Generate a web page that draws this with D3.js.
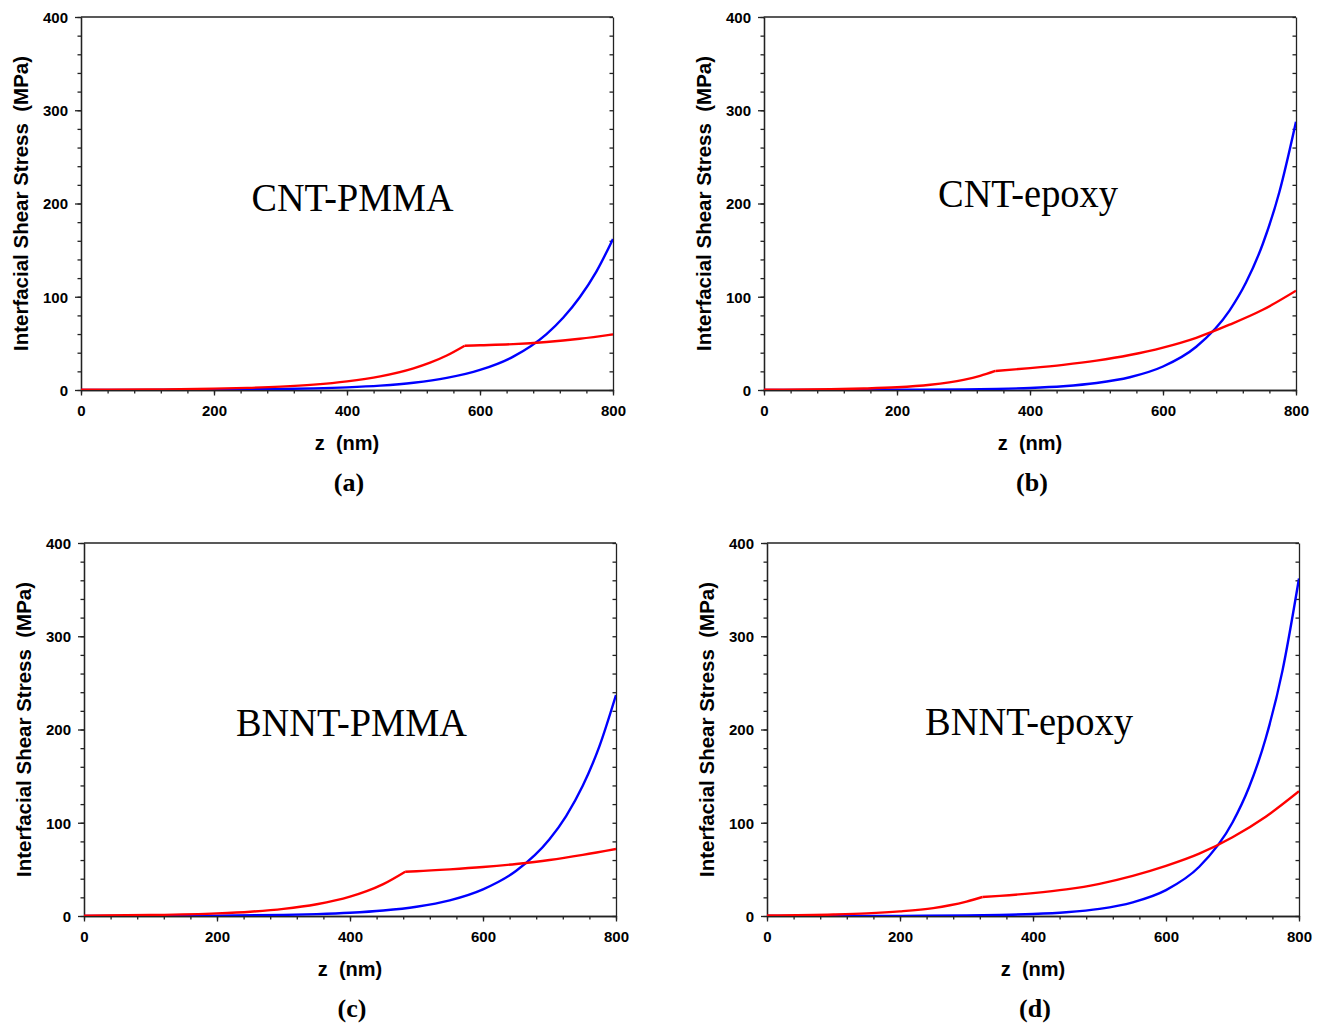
<!DOCTYPE html>
<html><head><meta charset="utf-8">
<script src="https://cdn.jsdelivr.net/npm/d3@7"></script>
<style>body{margin:0;background:#fff;} svg{display:block;}</style>
</head><body><svg id="chart" width="1320" height="1024"></svg>
<script>
// ---------- data ----------
const panelLetters = ["(a)", "(b)", "(c)", "(d)"];
const panelNames = ["CNT-PMMA", "CNT-epoxy", "BNNT-PMMA", "BNNT-epoxy"];
const xTickValues = [0, 200, 400, 600, 800];
const yTickValues = [0, 100, 200, 300, 400];
const xTitle = "z  (nm)";
const yTitle = "Interfacial Shear Stress  (MPa)";

const zBlue = [0, 100, 200, 300, 350, 400, 450, 500, 550, 600, 650, 700, 725, 750, 775, 800];
const blueA = [0.05, 0.14, 0.38, 1.04, 1.72, 2.85, 4.7, 7.8, 13.0, 21.5, 35.8, 60, 77.5, 99.5, 127, 162];
const blueB = [0.02, 0.06, 0.19, 0.66, 1.2, 2.2, 4.06, 7.5, 13.7, 25.2, 46.4, 85.2, 115.5, 156.6, 212.3, 287.7];
const blueC = [0.05, 0.14, 0.41, 1.19, 2.03, 3.44, 5.84, 9.9, 16.8, 28.6, 48.5, 82.3, 107.2, 139.6, 181.9, 237];
const blueD = [0.01, 0.05, 0.16, 0.59, 1.12, 2.14, 4.06, 7.7, 14.7, 27.8, 52.8, 100.3, 138.3, 190.6, 262.6, 362];

const zRedA = [0, 100, 200, 250, 300, 350, 400, 450, 500, 525, 550, 577, 600, 650, 700, 750, 800];
const redA  = [0.22, 0.56, 1.43, 2.27, 3.6, 5.75, 9.2, 14.6, 23.2, 29.3, 37.0, 47.5, 48.0, 49.2, 51.5, 55.0, 59.7];
const kinkA = 577;

const zRedB = [0, 100, 150, 200, 250, 300, 325, 348, 400, 450, 500, 550, 600, 650, 700, 750, 800];
const redB  = [0.22, 0.81, 1.56, 2.9, 5.7, 10.9, 15.1, 20.4, 23.5, 27, 31.5, 37.5, 45.5, 56, 70, 86, 106.5];
const kinkB = 348;

const zRedC = [0, 100, 200, 250, 300, 350, 400, 425, 450, 483, 500, 550, 600, 650, 700, 750, 800];
const redC  = [0.38, 1.03, 2.8, 4.6, 7.6, 12.6, 20.7, 26.6, 34.2, 47.5, 48.0, 50.0, 52.5, 55.8, 60.0, 65.5, 71.8];
const kinkC = 483;

const zRedD = [0, 100, 150, 200, 250, 275, 300, 324, 350, 400, 450, 500, 550, 600, 650, 700, 750, 800];
const redD  = [0.51, 1.6, 2.8, 4.96, 8.5, 11.5, 15.5, 20.4, 21.6, 24.5, 28.5, 34.5, 43.0, 53.7, 66.8, 84.5, 106.5, 133.8];
const kinkD = 324;

// ---------- layout ----------
const layouts = [
  {x0: 81,  x1: 613,  yTop: 17,  yBot: 390, nameX: 352.5, nameY: 211, nameW: 202},
  {x0: 764, x1: 1296, yTop: 17,  yBot: 390, nameX: 1028,  nameY: 207, nameW: 180},
  {x0: 84,  x1: 616,  yTop: 543, yBot: 916, nameX: 351.5, nameY: 736, nameW: 231},
  {x0: 767, x1: 1299, yTop: 543, yBot: 916, nameX: 1029,  nameY: 735, nameW: 208}
];
const blues = [blueA, blueB, blueC, blueD];
const redZs = [zRedA, zRedB, zRedC, zRedD];
const reds = [redA, redB, redC, redD];
const kinks = [kinkA, kinkB, kinkC, kinkD];

const svg = d3.select("#chart");
const SANS = "'Liberation Sans', Arial, sans-serif";
const SERIF = "'Liberation Serif', 'Times New Roman', serif";
const AXIS = "#222";

layouts.forEach((L, i) => {
  const x = d3.scaleLinear().domain([0, 800]).range([L.x0, L.x1]);
  const y = d3.scaleLinear().domain([0, 400]).range([L.yBot, L.yTop]);
  const g = svg.append("g");

  const cid = "clip" + i;
  svg.append("clipPath").attr("id", cid).append("rect")
    .attr("x", L.x0).attr("y", L.yTop).attr("width", L.x1 - L.x0).attr("height", L.yBot - L.yTop);

  const styleAxis = sel => {
    sel.selectAll("path,line").attr("stroke", AXIS).attr("stroke-width", 1.3);
    sel.selectAll("text").attr("fill", "#000").attr("font-family", SANS)
      .attr("font-weight", "bold").attr("font-size", 15);
  };

  // minor ticks
  g.append("g").attr("transform", `translate(0,${L.yBot})`)
    .call(d3.axisBottom(x).tickValues(d3.range(0, 801, 40)).tickSize(3.5).tickSizeOuter(0).tickFormat(""))
    .call(styleAxis);
  g.append("g").attr("transform", `translate(${L.x0},0)`)
    .call(d3.axisLeft(y).tickValues(d3.range(0, 401, 20)).tickSize(3.5).tickSizeOuter(0).tickFormat(""))
    .call(styleAxis);
  g.append("g").attr("transform", `translate(${L.x1},0)`)
    .call(d3.axisRight(y).tickValues(d3.range(0, 401, 20)).tickSize(-3.5).tickSizeOuter(0).tickFormat(""))
    .call(styleAxis);
  // major ticks with labels
  const xa = g.append("g").attr("transform", `translate(0,${L.yBot})`)
    .call(d3.axisBottom(x).tickValues(xTickValues).tickSize(5.5).tickSizeOuter(0))
    .call(styleAxis);
  xa.selectAll("text").attr("dy", null).attr("y", 26);
  const ya = g.append("g").attr("transform", `translate(${L.x0},0)`)
    .call(d3.axisLeft(y).tickValues(yTickValues).tickSize(6).tickSizeOuter(0))
    .call(styleAxis);
  ya.selectAll("text").attr("x", -13).attr("dy", "0.36em");
  g.append("line").attr("x1", L.x0).attr("x2", L.x1).attr("y1", L.yTop).attr("y2", L.yTop)
    .attr("stroke", AXIS).attr("stroke-width", 1.3);

  // curves
  const line = d3.line().x(d => x(d[0])).y(d => y(d[1])).curve(d3.curveMonotoneX);
  const cg = g.append("g").attr("clip-path", `url(#${cid})`);
  const rz = redZs[i], rv = reds[i], k = kinks[i];
  const redPts = rz.map((z, j) => [z, rv[j]]);
  const seg1 = redPts.filter(p => p[0] <= k);
  const seg2 = redPts.filter(p => p[0] >= k);
  const bluePts = zBlue.map((z, j) => [z, blues[i][j]]);
  cg.append("path").datum(bluePts).attr("d", line)
    .attr("fill", "none").attr("stroke", "#0000ff").attr("stroke-width", 2.4);
  [seg1, seg2].forEach(s => cg.append("path").datum(s).attr("d", line)
    .attr("fill", "none").attr("stroke", "#ff0000").attr("stroke-width", 2.4).attr("stroke-linejoin", "round"));

  // titles
  const cx = (L.x0 + L.x1) / 2;
  g.append("text").attr("x", cx).attr("y", L.yBot + 60).attr("text-anchor", "middle")
    .attr("font-family", SANS).attr("font-weight", "bold").attr("font-size", 20)
    .style("white-space", "pre").text(xTitle);
  g.append("text").attr("transform", `translate(${L.x0 - 53},${(L.yTop + L.yBot) / 2}) rotate(-90)`)
    .attr("text-anchor", "middle").attr("font-family", SANS).attr("font-weight", "bold").attr("font-size", 20.5)
    .style("white-space", "pre").text(yTitle);
  g.append("text").attr("x", cx + 2).attr("y", L.yBot + 101).attr("text-anchor", "middle")
    .attr("font-family", SERIF).attr("font-weight", "bold").attr("font-size", 26)
    .text(panelLetters[i]);
  g.append("text").attr("x", L.nameX).attr("y", L.nameY).attr("text-anchor", "middle")
    .attr("font-family", SERIF).attr("font-size", 40)
    .attr("textLength", L.nameW).attr("lengthAdjust", "spacingAndGlyphs")
    .text(panelNames[i]);
});
</script>
</body></html>
